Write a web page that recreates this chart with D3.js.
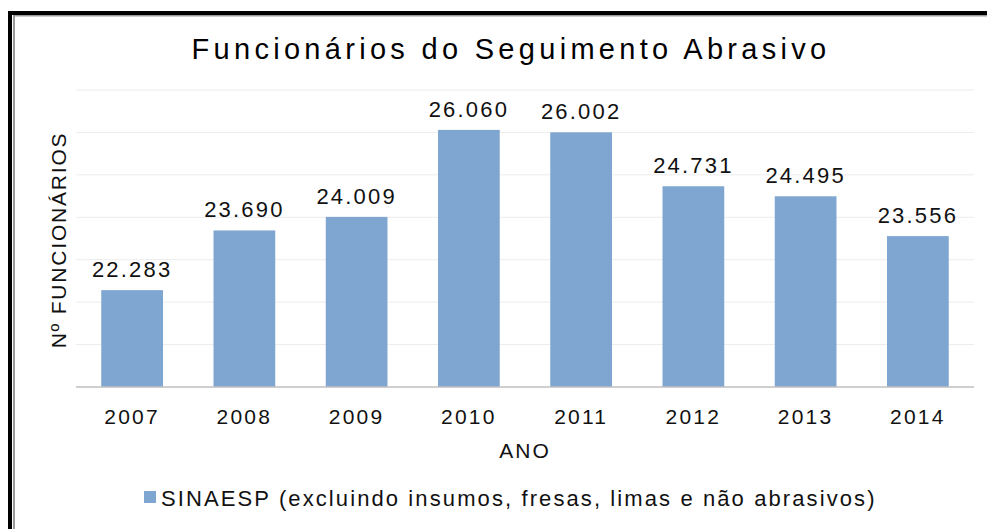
<!DOCTYPE html>
<html>
<head>
<meta charset="utf-8">
<script src="https://cdn.jsdelivr.net/npm/d3@7"></script>
<style>
  body { margin: 0; background: #fff; }
  svg text { font-family: "Liberation Sans", Arial, sans-serif; }
</style>
</head>
<body>
<div id="main"></div>
<script>
var years = ["2007", "2008", "2009", "2010", "2011", "2012", "2013", "2014"];
var employees = [22283, 23690, 24009, 26060, 26002, 24731, 24495, 23556];
var yTicks = [20000, 21000, 22000, 23000, 24000, 25000, 26000, 27000];

var ctx = {
    w: 987,
    h: 529,
    barColor: "#7fa6d1",
    fmt: d3.formatLocale({decimal: ",", thousands: ".", grouping: [3], currency: ["", ""]}).format(",d")
};

var createViz = function(){
    var svg = d3.select("#main").append("svg")
        .attr("width", ctx.w)
        .attr("height", ctx.h);

    // frame (top + left only, black with gray inner line)
    svg.append("rect").attr("x", 8).attr("y", 11).attr("width", ctx.w - 8).attr("height", 4).style("fill", "#000");
    svg.append("rect").attr("x", 8).attr("y", 11).attr("width", 4).attr("height", ctx.h - 11).style("fill", "#000");
    svg.append("rect").attr("x", 13).attr("y", 15).attr("width", ctx.w - 13).attr("height", 1.5).style("fill", "#9a9a9a");
    svg.append("rect").attr("x", 13).attr("y", 15).attr("width", 2).attr("height", ctx.h - 15).style("fill", "#9a9a9a");

    ctx.xScale = d3.scaleBand().domain(years)
        .range([76, 974])
        .paddingInner(0.45)
        .paddingOuter(0.225);
    ctx.yScale = d3.scaleLinear().domain([20000, 27000])
        .range([387, 90]);

    // gridlines
    svg.append("g").selectAll("line")
        .data(yTicks.slice(1))
        .enter().append("line")
        .attr("x1", 76).attr("x2", 974)
        .attr("y1", function(d){ return ctx.yScale(d); })
        .attr("y2", function(d){ return ctx.yScale(d); })
        .style("stroke", "#ececec")
        .style("stroke-width", 1);

    // bars
    svg.append("g").selectAll("rect")
        .data(employees)
        .enter().append("rect")
        .attr("x", function(d, i){ return ctx.xScale(years[i]); })
        .attr("width", ctx.xScale.bandwidth())
        .attr("y", function(d){ return ctx.yScale(d); })
        .attr("height", function(d){ return ctx.yScale(20000) - ctx.yScale(d); })
        .style("fill", ctx.barColor);

    // baseline
    svg.append("line")
        .attr("x1", 76).attr("x2", 974)
        .attr("y1", ctx.yScale(20000)).attr("y2", ctx.yScale(20000))
        .style("stroke", "#bfbfbf")
        .style("stroke-width", 1.5);

    // value labels
    svg.append("g").selectAll("text")
        .data(employees)
        .enter().append("text")
        .attr("x", function(d, i){ return ctx.xScale(years[i]) + ctx.xScale.bandwidth()/2; })
        .attr("y", function(d){ return ctx.yScale(d) - 13; })
        .style("text-anchor", "middle")
        .style("font-size", "22px")
        .style("letter-spacing", "2.2px")
        .style("fill", "#111")
        .text(function(d){ return ctx.fmt(d); });

    // x axis labels
    svg.append("g").selectAll("text")
        .data(years)
        .enter().append("text")
        .attr("x", function(d){ return ctx.xScale(d) + ctx.xScale.bandwidth()/2; })
        .attr("y", 424)
        .style("text-anchor", "middle")
        .style("font-size", "21px")
        .style("letter-spacing", "2.2px")
        .style("fill", "#111")
        .text(function(d){ return d; });

    // title
    svg.append("text")
        .attr("x", 511)
        .attr("y", 59)
        .style("text-anchor", "middle")
        .style("font-size", "29px")
        .style("letter-spacing", "4.3px")
        .style("fill", "#000")
        .text("Funcionários do Seguimento Abrasivo");

    // x-axis title
    svg.append("text")
        .attr("x", 525)
        .attr("y", 458)
        .style("text-anchor", "middle")
        .style("font-size", "21px")
        .style("letter-spacing", "2px")
        .style("fill", "#111")
        .text("ANO");

    // y-axis title
    svg.append("text")
        .attr("transform", "translate(66,240) rotate(-90)")
        .style("text-anchor", "middle")
        .style("font-size", "21px")
        .style("letter-spacing", "1.8px")
        .style("fill", "#111")
        .text("Nº FUNCIONÁRIOS");

    // legend
    var lg = svg.append("g");
    lg.append("rect")
        .attr("x", 144).attr("y", 491)
        .attr("width", 12).attr("height", 12)
        .style("fill", ctx.barColor);
    lg.append("text")
        .attr("x", 161).attr("y", 506)
        .style("font-size", "22px")
        .style("letter-spacing", "2.1px")
        .style("fill", "#111")
        .text("SINAESP (excluindo insumos, fresas, limas e não abrasivos)");
};

createViz();
</script>
</body>
</html>
